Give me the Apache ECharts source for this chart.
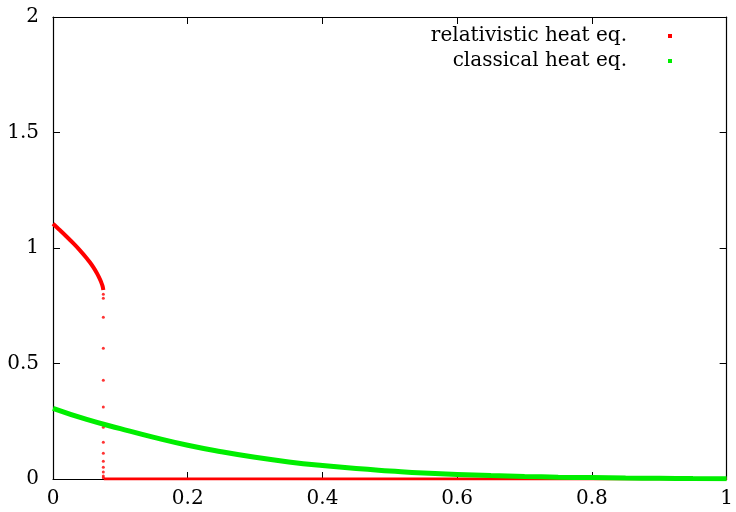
<!DOCTYPE html>
<html>
<head>
<meta charset="utf-8">
<script src="https://cdn.jsdelivr.net/npm/echarts@6/dist/echarts.min.js"></script>
<style>
  html, body { margin: 0; padding: 0; background: #fff; }
  #chart { width: 736px; height: 512px; }
</style>
</head>
<body>
<div id="chart"></div>
<script>
// relativistic heat eq. : curve part up to the front
var relX = [0, 0.01, 0.02, 0.03, 0.04, 0.05, 0.055, 0.06, 0.065, 0.068, 0.071, 0.073, 0.074, 0.0747];
var relY = [1.105, 1.078, 1.050, 1.021, 0.990, 0.956, 0.937, 0.916, 0.892, 0.875, 0.856, 0.840, 0.830, 0.818];
// isolated dots on the front
var frontX = 0.0747;
var frontY = [0.80, 0.782, 0.70, 0.566, 0.427, 0.312, 0.224, 0.159, 0.111, 0.077, 0.051, 0.030, 0.013, 0.005];
// zero part after the front
var zeroX = [0.0755, 1];
var zeroY = [0, 0];

// classical heat eq.
var clsX = [0, 0.05, 0.1, 0.15, 0.2, 0.25, 0.3, 0.35, 0.4, 0.45, 0.5, 0.55, 0.6, 0.65, 0.7, 0.75, 0.8, 0.85, 0.9, 0.95, 1.0];
var clsY = [0.306, 0.258, 0.218, 0.180, 0.146, 0.118, 0.094, 0.074, 0.058, 0.045, 0.035, 0.026, 0.020, 0.015, 0.011, 0.008, 0.006, 0.004, 0.003, 0.002, 0.0015];

var names = ["relativistic heat eq.", "classical heat eq."];
var RED = "#ff0000";
var GREEN = "#00ee00";
var FONT = "DejaVu Serif";

function zip(xs, ys) {
  return xs.map(function (x, i) { return [x, ys[i]]; });
}

var chart = echarts.init(document.getElementById("chart"));

var tickCommon = {
  axisLine: { show: true, onZero: false, lineStyle: { color: "#000", width: 1.2 } },
  axisTick: { show: true, inside: true, length: 7, lineStyle: { color: "#000", width: 1 } },
  splitLine: { show: false }
};

function fmt(v) {
  return String(v);
}

var option = {
  animation: false,
  backgroundColor: "#fff",
  grid: { left: 53, right: 9, top: 17, bottom: 33 },
  legend: {
    orient: "vertical",
    right: 59,
    top: 20,
    align: "right",
    itemWidth: 4,
    itemHeight: 4,
    itemGap: 3,
    icon: "rect",
    textStyle: { fontFamily: FONT, fontSize: 20, color: "#000", padding: [0, 36, 0, 0], lineHeight: 22 },
    data: [
      { name: names[0], itemStyle: { color: RED } },
      { name: names[1], itemStyle: { color: GREEN } }
    ]
  },
  xAxis: [
    Object.assign({
      type: "value", position: "bottom", min: 0, max: 1, interval: 0.2,
      axisLabel: { fontFamily: FONT, fontSize: 20, color: "#000", margin: 10, formatter: fmt }
    }, tickCommon),
    Object.assign({
      type: "value", position: "top", min: 0, max: 1, interval: 0.2,
      axisLabel: { show: false }
    }, tickCommon)
  ],
  yAxis: [
    Object.assign({
      type: "value", position: "left", min: 0, max: 2, interval: 0.5,
      axisLabel: { fontFamily: FONT, fontSize: 20, color: "#000", margin: 14, formatter: fmt }
    }, tickCommon),
    Object.assign({
      type: "value", position: "right", min: 0, max: 2, interval: 0.5,
      axisLabel: { show: false }
    }, tickCommon)
  ],
  series: [
    {
      name: names[0], type: "line", data: zip(relX, relY),
      showSymbol: false, smooth: 0.3,
      lineStyle: { color: RED, width: 4 }, itemStyle: { color: RED }, z: 3
    },
    {
      name: names[0], type: "scatter",
      data: frontY.map(function (y) { return [frontX, y]; }),
      symbol: "circle", symbolSize: 3, itemStyle: { color: RED }, z: 3
    },
    {
      name: names[0], type: "line", data: zip(zeroX, zeroY),
      showSymbol: false, lineStyle: { color: RED, width: 3 }, itemStyle: { color: RED }, z: 3
    },
    {
      name: names[1], type: "line", data: zip(clsX, clsY),
      showSymbol: false, smooth: true,
      lineStyle: { color: GREEN, width: 5 }, itemStyle: { color: GREEN }, z: 4
    }
  ]
};

chart.setOption(option);
</script>
</body>
</html>
